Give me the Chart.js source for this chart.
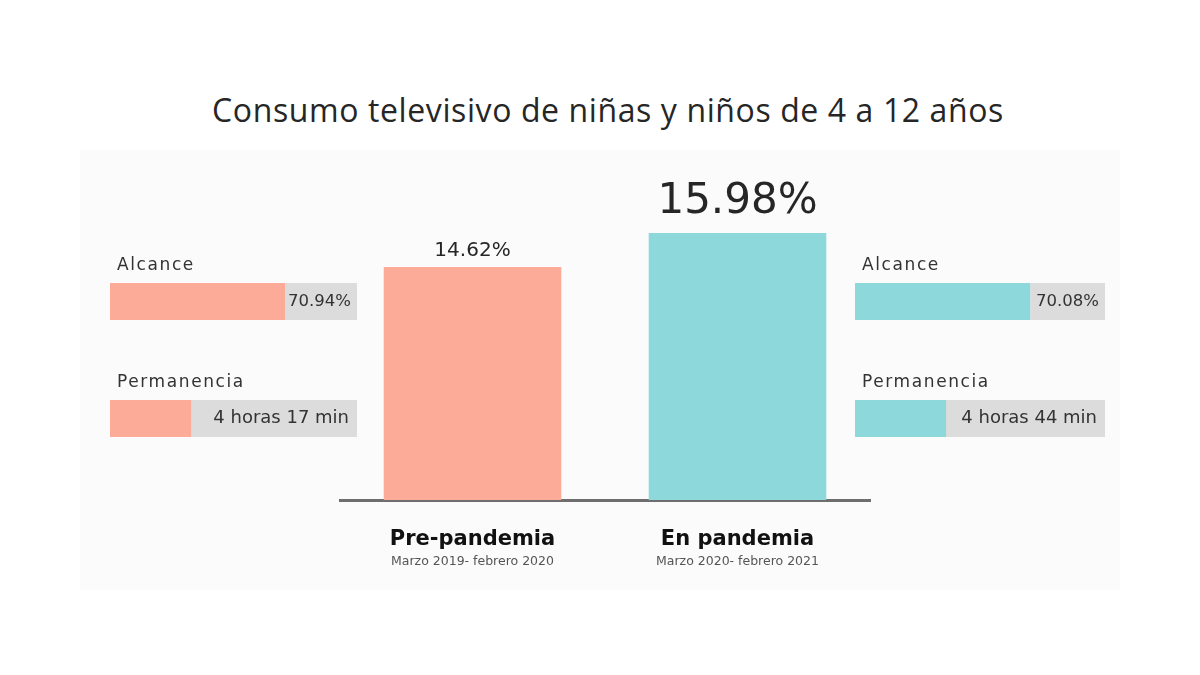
<!DOCTYPE html>
<html>
<head>
<meta charset="utf-8">
<script src="https://cdn.jsdelivr.net/npm/chart.js@4"></script>
<style>
  body { margin: 0; background: #fff; }
  #wrap { position: relative; width: 1200px; height: 675px; overflow: hidden; }
  #panel { position: absolute; left: 80px; top: 150px; width: 1040px; height: 440px; background: #fbfbfb; }
  #titulo { position: absolute; left: 0; top: 88px; width: 1216px; text-align: center;
    font-family: 'Open Sans', sans-serif; font-size: 32px; letter-spacing: 0.6px; color: #262626; }
  canvas { position: absolute; }
  #principal { left: 330px; top: 150px; }
  #izq { left: 100px; top: 243px; }
  #der { left: 845px; top: 243px; }
</style>
</head>
<body>
<div id="wrap">
  <div id="panel"></div>
  <div id="titulo">Consumo televisivo de niñas y niños de 4 a 12 años</div>
  <canvas id="principal" width="560" height="440"></canvas>
  <canvas id="izq" width="270" height="234"></canvas>
  <canvas id="der" width="270" height="234"></canvas>
</div>
<script>
// datos
var periodos = ["Pre-pandemia", "En pandemia"];
var fechas = ["Marzo 2019- febrero 2020", "Marzo 2020- febrero 2021"];
var consumo = [14.62, 15.98];
var filas = ["Alcance", "Permanencia"];
var alcance = [70.94, 70.08];          // %
var permanencia = [257, 284];          // minutos (4h17, 4h44)
var textoPermanencia = ["4 horas 17 min", "4 horas 44 min"];
var colores = ["#fbab98", "#8cd8db"];
var maxMinutos = 780;

var fuente = "'DejaVu Sans', sans-serif";

// etiquetas arriba de las barras y debajo del eje
var etiquetasPrincipal = {
  id: 'etiquetasPrincipal',
  afterDraw: function(chart) {
    var ctx = chart.ctx;
    var meta = chart.getDatasetMeta(0);
    var xs = chart.scales.x;
    ctx.save();
    ctx.textAlign = 'center';
    ctx.fillStyle = '#262626';
    meta.data.forEach(function(bar, i) {
      ctx.textBaseline = 'bottom';
      if (i == 0) {
        ctx.font = '20px ' + fuente;
        ctx.fillText(consumo[i].toFixed(2) + '%', bar.x, bar.y - 6);
      } else {
        ctx.font = '42px ' + fuente;
        ctx.fillText(consumo[i].toFixed(2) + '%', bar.x, bar.y - 10);
      }
    });
    periodos.forEach(function(p, i) {
      var x = xs.getPixelForValue(i);
      ctx.fillStyle = '#111';
      ctx.font = 'bold 21px ' + fuente;
      ctx.textBaseline = 'middle';
      ctx.fillText(p, x, 390);
      ctx.fillStyle = '#555';
      ctx.font = '12.5px ' + fuente;
      ctx.fillText(fechas[i], x, 412);
    });
    ctx.restore();
  }
};

new Chart(document.getElementById('principal'), {
  type: 'bar',
  data: {
    labels: periodos,
    datasets: [{
      data: consumo,
      backgroundColor: colores,
      barPercentage: 0.67,
      categoryPercentage: 1
    }]
  },
  options: {
    responsive: false,
    animation: false,
    layout: { padding: { left: 10, right: 20, top: 30, bottom: 82 } },
    plugins: { legend: { display: false }, tooltip: { enabled: false } },
    scales: {
      x: {
        grid: { display: false },
        ticks: { display: false },
        border: { display: true, color: '#6e6e6e', width: 3 }
      },
      y: { display: false, min: 5.3, max: 18.1 }
    }
  },
  plugins: [etiquetasPrincipal]
});

// barras laterales: una por periodo
function lateral(id, k, padIzq, padDer) {
  var valores = [alcance[k] / 100, permanencia[k] / maxMinutos];
  var textos = [alcance[k].toFixed(2) + '%', textoPermanencia[k]];
  var etiquetas = {
    id: 'etiquetas' + k,
    afterDraw: function(chart) {
      var ctx = chart.ctx;
      var meta = chart.getDatasetMeta(1);
      ctx.save();
      meta.data.forEach(function(bar, i) {
        var alto = bar.height;
        ctx.fillStyle = '#333';
        ctx.font = '17px ' + fuente;
        ctx.letterSpacing = '1.6px';
        ctx.textAlign = 'left';
        ctx.textBaseline = 'middle';
        ctx.fillText(filas[i], chart.chartArea.left + 7, bar.y - alto / 2 - 17);
        ctx.font = (i == 0 ? '16.5px ' : '18px ') + fuente;
        ctx.letterSpacing = '0px';
        ctx.textAlign = 'right';
        ctx.fillText(textos[i], chart.chartArea.right - (i == 0 ? 6 : 8), bar.y);
      });
      ctx.restore();
    }
  };
  new Chart(document.getElementById(id), {
    type: 'bar',
    data: {
      labels: filas,
      datasets: [
        { data: valores, backgroundColor: colores[k], barPercentage: 0.316, categoryPercentage: 1 },
        { data: valores.map(function(v) { return 1 - v; }), backgroundColor: '#dcdcdc', barPercentage: 0.316, categoryPercentage: 1 }
      ]
    },
    options: {
      indexAxis: 'y',
      responsive: false,
      animation: false,
      layout: { padding: { left: padIzq, right: padDer, top: 0, bottom: 0 } },
      plugins: { legend: { display: false }, tooltip: { enabled: false } },
      scales: {
        x: { display: false, stacked: true, min: 0, max: 1 },
        y: { display: false, stacked: true }
      }
    },
    plugins: [etiquetas]
  });
}
lateral('izq', 0, 10, 13);
lateral('der', 1, 10, 10);
</script>
</body>
</html>
